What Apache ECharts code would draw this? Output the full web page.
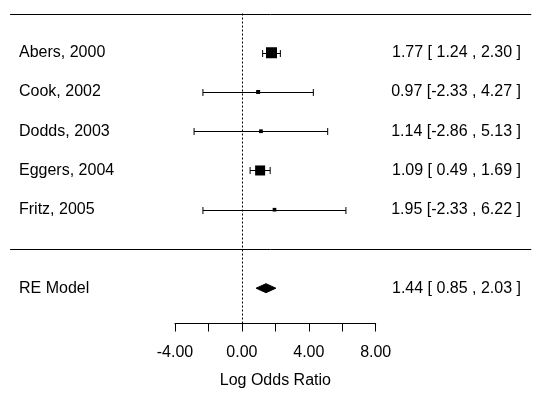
<!DOCTYPE html>
<html>
<head>
<meta charset="utf-8">
<script src="https://cdn.jsdelivr.net/npm/echarts@6/dist/echarts.min.js"></script>
<style>
html,body{margin:0;padding:0;background:#fff;}
#chart{width:540px;height:398px;}
</style>
</head>
<body>
<div id="chart"></div>
<script>
// ---- data ----
const studies = ['Abers, 2000', 'Cook, 2002', 'Dodds, 2003', 'Eggers, 2004', 'Fritz, 2005'];
const estimates = [1.77, 0.97, 1.14, 1.09, 1.95];
const ciLower = [1.24, -2.33, -2.86, 0.49, -2.33];
const ciUpper = [2.30, 4.27, 5.13, 1.69, 6.22];
const modelLabel = 'RE Model';
const modelEstimate = 1.44;
const modelLower = 0.85;
const modelUpper = 2.03;
const xTicks = [-4, -2, 0, 2, 4, 6, 8];
const xTickLabels = ['-4.00', '', '0.00', '', '4.00', '', '8.00'];
const xTitle = 'Log Odds Ratio';
const xlim = [-13.86, 17.3];   // full plotting width (for separator lines)

// ---- derived ----
const k = studies.length;
const rows = studies.map((s, i) => k - i);   // 5..1
const modelRow = -1;
const fmt = v => (v < 0 ? '' : ' ') + v.toFixed(2);
const ciText = (e, l, u) => e.toFixed(2) + ' [' + fmt(l) + ' ,' + fmt(u) + ' ]';
// marker size from inverse standard error (metafor style, 0.5..1.5)
const invSe = ciLower.map((l, i) => 1 / ((ciUpper[i] - l) / (2 * 1.96)));
const wMin = Math.min(...invSe), wMax = Math.max(...invSe);
const psize = invSe.map(w => 0.5 + (w - wMin) / (wMax - wMin));

const leftLabels = {}, rightLabels = {};
rows.forEach((r, i) => {
  leftLabels[r] = studies[i];
  rightLabels[r] = ciText(estimates[i], ciLower[i], ciUpper[i]);
});
leftLabels[modelRow] = modelLabel;
rightLabels[modelRow] = ciText(modelEstimate, modelLower, modelUpper);
const labelRows = rows.concat([modelRow]);

const FONT = 'Liberation Sans, Arial, sans-serif';
const chart = echarts.init(document.getElementById('chart'), null, {renderer: 'canvas'});

const studyData = rows.map((r, i) => [ciLower[i], ciUpper[i], estimates[i], r, psize[i]]);

const option = {
  animation: false,
  backgroundColor: '#ffffff',
  grid: {left: 175, width: 200.7, top: 13.5, height: 310, containLabel: false},
  xAxis: {
    type: 'value', min: xTicks[0], max: xTicks[xTicks.length - 1], interval: 2,
    axisLine: {show: true, onZero: false, lineStyle: {color: '#000', width: 1}},
    axisTick: {show: true, length: 8, lineStyle: {color: '#000', width: 1}},
    axisLabel: {
      margin: 21.5, color: '#000', fontFamily: FONT, fontSize: 16,
      formatter: v => { const i = xTicks.indexOf(v); return i >= 0 ? xTickLabels[i] : ''; },
      showMinLabel: true, showMaxLabel: true
    },
    splitLine: {show: false},
    name: xTitle, nameLocation: 'middle', nameGap: 49.5,
    nameTextStyle: {color: '#000', fontFamily: FONT, fontSize: 16}
  },
  yAxis: [{
    type: 'value', min: -1.9, max: 6, position: 'left',
    axisLine: {show: false, onZero: false}, axisTick: {show: false}, splitLine: {show: false},
    axisLabel: {
      customValues: labelRows, align: 'left', margin: 156, padding: [2, 0, 0, 0],
      color: '#000', fontFamily: FONT, fontSize: 16,
      formatter: v => leftLabels[Math.round(v)] || ''
    }
  }, {
    type: 'value', min: -1.9, max: 6, position: 'right',
    axisLine: {show: false, onZero: false}, axisTick: {show: false}, splitLine: {show: false},
    axisLabel: {
      customValues: labelRows, align: 'right', margin: 145.3, padding: [2, 0, 0, 0],
      color: '#000', fontFamily: FONT, fontSize: 16,
      formatter: v => rightLabels[Math.round(v)] || ''
    }
  }],
  series: [
    {
      // separator lines
      type: 'custom', clip: false, silent: true,
      data: [[xlim[0], xlim[1], k + 1], [xlim[0], xlim[1], 0]],
      renderItem: (params, api) => {
        const a = api.coord([api.value(0), api.value(2)]);
        const b = api.coord([api.value(1), api.value(2)]);
        return {type: 'line', shape: {x1: a[0], y1: Math.round(a[1]) + 0.5, x2: b[0], y2: Math.round(b[1]) + 0.5},
                style: {stroke: '#000', lineWidth: 1}};
      },
      markLine: {
        silent: true, symbol: ['none', 'none'], label: {show: false},
        lineStyle: {color: '#000', width: 1, type: [2, 2]},
        data: [{xAxis: 0}]
      }
    },
    {
      // study CIs and squares
      type: 'custom', clip: false, silent: true,
      data: studyData,
      renderItem: (params, api) => {
        const lo = api.coord([api.value(0), api.value(3)]);
        const hi = api.coord([api.value(1), api.value(3)]);
        const c = api.coord([api.value(2), api.value(3)]);
        const y = Math.round(c[1]) + 0.5;
        const cap = 3.5;
        const s = 7.33 * api.value(4);
        return {type: 'group', children: [
          {type: 'line', shape: {x1: lo[0], y1: y, x2: hi[0], y2: y}, style: {stroke: '#000', lineWidth: 1}},
          {type: 'line', shape: {x1: lo[0], y1: y - cap, x2: lo[0], y2: y + cap}, style: {stroke: '#000', lineWidth: 1}},
          {type: 'line', shape: {x1: hi[0], y1: y - cap, x2: hi[0], y2: y + cap}, style: {stroke: '#000', lineWidth: 1}},
          {type: 'rect', shape: {x: c[0] - s / 2, y: c[1] - s / 2, width: s, height: s}, style: {fill: '#000'}}
        ]};
      }
    },
    {
      // summary diamond
      type: 'custom', clip: false, silent: true,
      data: [[modelLower, modelUpper, modelEstimate, modelRow]],
      renderItem: (params, api) => {
        const lo = api.coord([api.value(0), api.value(3)]);
        const hi = api.coord([api.value(1), api.value(3)]);
        const c = api.coord([api.value(2), api.value(3)]);
        const h = 4.5;
        return {type: 'polygon', shape: {points: [[lo[0], c[1]], [c[0], c[1] - h], [hi[0], c[1]], [c[0], c[1] + h]]},
                style: {fill: '#000', stroke: '#000', lineWidth: 1}};
      }
    }
  ]
};
chart.setOption(option);
</script>
</body>
</html>
